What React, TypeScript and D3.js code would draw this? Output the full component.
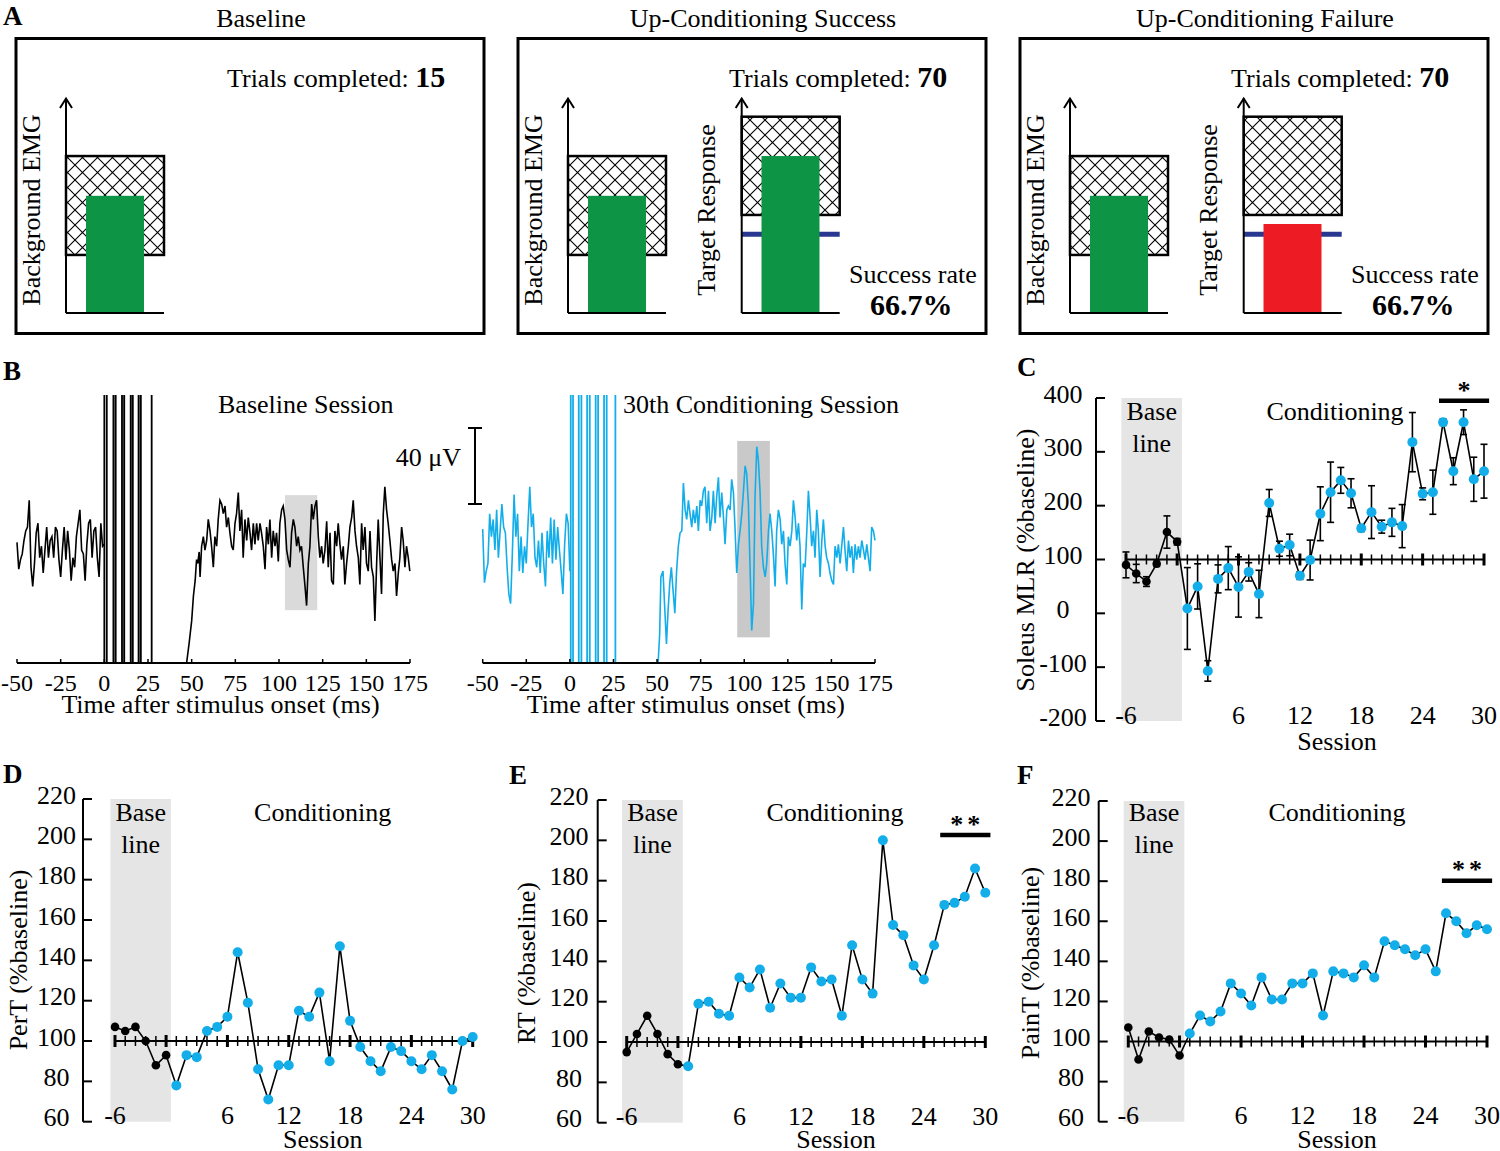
import React, { useEffect } from "react";
import * as d3 from "d3";

const FONT = "'Liberation Serif', 'Times New Roman', Times, serif";
const BLUE = "#13aee9";
const GREEN = "#0e9445";
const RED = "#ed1c24";
const NAVY = "#283891";

// ---------------- Panel A (schematic levels, 0..1 of the feedback axis) ----------------
const panelATitles = ["Baseline", "Up-Conditioning Success", "Up-Conditioning Failure"];
const panelATrials = [15, 70, 70];
const emgWindow = [0.27, 0.73];
const emgLevel = [0.545, 0.545, 0.545];
const targetWindow = [0.456, 0.913];
const targetLevel: (number | null)[] = [null, 0.73, 0.414];
const targetThreshold = 0.366;
const successRate: (string | null)[] = [null, "66.7%", "66.7%"];

// ---------------- Panel B (EMG traces, ms / µV) ----------------
const traceTicks = [-50, -25, 0, 25, 50, 75, 100, 125, 150, 175];
const preStart = -50;
const preStep = 1;
const baselinePre = [3, -11, -6, -3, 4, 9, 11, 25, -10, -20, -8, 8, 13, -5, 1, -13, -1, 11, -5, 4, 6, -5, 11, 9, -6, -15, -1, 11, -6, 9, -1, -17, -5, -10, 6, 13, 20, -1, -3, -17, 2, 13, 15, -5, 9, 11, -5, -15, 13, 1, 2];
const baselinePost: [number, number][] = [
  [47.1, -60], [48.5, -50], [50.0, -38], [51.0, -25], [52.0, -17], [52.8, -6], [53.5, -8], [54.3, -2],
  [54.8, -15], [55.7, 1], [56.7, 6], [57.6, -1], [58.6, 4], [59.5, 15], [60.5, 9], [61.4, 1], [62.4, -10], [63.3, 6], [64.3, 1], [65.2, 15], [66.2, 25], [67.2, 23], [68.1, 18], [69.1, 22], [70, 11], [71, 16], [71.9, 8], [72.9, 1], [73.8, -1], [74.8, 13], [75.7, 18], [76.7, 29], [77.6, 9], [78.6, 20], [79.5, -5], [80.5, 15], [81.5, 4], [82.4, 16], [83.4, 8], [84.3, -1], [85.3, 13], [86.2, 2], [87.2, 13], [88.1, 4], [89.1, 13], [90, 8], [91, 1], [92, -11], [92.9, 11], [93.9, 2], [94.8, 15], [95.8, -5], [96.7, 9], [97.7, 1], [98.6, 8], [99.6, -7], [100.5, 13], [101.5, 20], [102.4, 22], [103.4, 15], [104.4, -1], [105.3, -6], [106.3, -10], [107.2, 8], [108.2, 15], [109.1, 11], [110.1, 1], [111, 6], [112, -1], [112.9, 1], [113.9, -10], [114.9, -20], [115.8, -30], [116.8, -8], [117.7, 1], [118.7, 23], [119.6, 15], [120.6, 22], [121.5, 25], [122.5, 6], [123.4, -5], [124.4, 1], [125.3, -8], [126.3, -1], [127.3, 14], [128.2, -10], [129.2, 8], [130.1, -17], [131.1, -19], [132, 9], [133, 1], [133.9, 13], [134.9, 2], [135.8, -6], [136.8, 1], [137.7, -19], [138.7, -8], [139.7, 1], [140.6, 11], [141.6, 16], [142.5, 25], [143.5, 9], [144.4, 1], [145.4, -5], [146.3, -19], [147.3, 13], [148.2, -1], [149.2, 11], [150.1, -8], [151.1, -12], [152.1, 9], [153, -10], [154, -15], [154.9, -38], [155.9, -8], [156.8, 15], [157.8, -5], [158.7, -24], [159.7, 18], [160.6, 32], [161.6, 20], [162.5, 13], [163.5, 4], [164.5, -6], [165.4, -12], [166.4, -8], [167.3, -25], [168.3, -13], [169.2, -5], [170.2, 11], [171.1, 4], [172.1, -10], [173, 1], [174, -5], [174.9, -12],
];
const baselineStim = [0.0, 1.4, 5.2, 6.5, 10.1, 11.4, 15.1, 16.3, 19.6, 20.9, 27.1];
const baselineWindow = { t0: 103.4, t1: 121.9, v0: -32.4, v1: 27.7 };

const condPre = [10, -18, -12, -8, 18, 6, 15, -1, 20, -5, 9, 23, 11, 8, -10, -24, -29, -3, 28, 6, 18, -12, 6, -13, 1, -8, 13, 32, 11, 18, -5, -10, 4, -13, 8, -8, -20, 9, -5, 16, -8, 15, -6, 11, -1, -12, -24, 2, 18, 13, -12];
const condPost: [number, number][] = [
  [50.6, -60], [51.5, -45], [52.2, -15], [53.4, -12], [54.5, -33], [55.4, -50], [56.3, -33], [57.3, -18], [58.2, -10], [59, -20], [60.2, -34], [61.2, -12], [62.2, 1], [63.2, 8], [64.2, 9],
  [65.1, 34], [66.1, 20], [67, 15], [68, 25], [68.9, 18], [69.9, 11], [70.8, 20], [71.8, 13], [72.8, 22], [73.7, 9], [74.7, 25], [75.6, 22], [76.6, 30], [77.5, 32], [78.5, 13], [79.5, 30], [80.4, 9], [81.4, 16], [82.3, 30], [83.3, 13], [84.2, 27], [85.2, 37], [86.1, 16], [87.1, 29], [88.1, 16], [89, 2], [90, 20], [90.9, 22], [91.9, 20], [92.8, 36], [93.8, 29], [94.7, 11], [95.7, -13], [96.7, 2], [97.6, 9], [98.6, 18], [99.5, 29], [100.5, 43], [101.4, 39], [102.4, 23], [103.4, -12], [104.3, -43], [105.3, -29], [106.2, 27], [107.2, 53], [108.1, 46], [109.1, 29], [110, 1], [111, -10], [112, -15], [112.9, -8], [113.9, 9], [114.8, 18], [115.8, 9], [116.7, -3], [117.7, -20], [118.6, 9], [119.6, 20], [120.6, 15], [121.5, 2], [122.5, 9], [123.4, -8], [124.4, -19], [125.3, 6], [126.3, 1], [127.3, 9], [128.2, 25], [129.2, 16], [130.1, 4], [131.1, 13], [132, 1], [133, -32], [133.9, -8], [134.9, -10], [135.9, 9], [136.8, 30], [137.8, 16], [138.7, 1], [139.7, 9], [140.6, -5], [141.6, 20], [142.5, 9], [143.5, -15], [144.5, 4], [145.4, 15], [146.4, 1], [147.3, -5], [148.3, -8], [149.2, -13], [150.2, -17], [151.2, -19], [152.1, 1], [153.1, -5], [154, 2], [155, -8], [155.9, 1], [156.9, 11], [157.8, -1], [158.8, -12], [159.8, 4], [160.7, -5], [161.7, 1], [162.6, -13], [163.6, 2], [164.5, -6], [165.5, 1], [166.4, -5], [167.4, 4], [168.4, -1], [169.3, -6], [170.3, 2], [171.2, -5], [172.2, -12], [173.1, 11], [174.1, 9], [175, 4],
];
const condStim = [0.5, 1.8, 5.1, 6.6, 9.9, 11.4, 14.8, 16.2, 19.6, 21.1, 26.1];
const condWindow = { t0: 96, t1: 114.7, v0: -46.6, v1: 56 };

// ---------------- Panels C-F (sessions) ----------------
const sessions = [-6, -5, -4, -3, -2, -1, 1, 2, 3, 4, 5, 6, 7, 8, 9, 10, 11, 12, 13, 14, 15, 16, 17, 18, 19, 20, 21, 22, 23, 24, 25, 26, 27, 28, 29, 30];
const sessionTickLabels = [-6, 6, 12, 18, 24, 30];
const majorSessions = [-6, -1, 6, 12, 18, 24, 30];

const mlrBaseline = [90, 74, 59, 92, 151, 133];
const mlrBaselineErr = [24, 17, 9, 5, 30, 6];
const mlrCond = [9, 50, -107, 64, 84, 49, 77, 36, 205, 120, 127, 70, 99, 185, 225, 247, 223, 158, 188, 161, 169, 162, 318, 222, 225, 355, 264, 355, 249, 264];
const mlrCondErr = [76, 42, 19, 26, 40, 56, 17, 44, 25, 14, 20, 7, 37, 50, 56, 24, 27, 6, 49, 12, 26, 40, 55, 11, 41, 6, 25, 23, 41, 50];

const perTBaseline = [107, 105, 107, 100, 88, 93];
const perTCond = [78, 93, 92, 105, 107, 112, 144, 119, 86, 71, 88, 88, 115, 112, 124, 90, 147, 110, 97, 90, 85, 97, 95, 90, 86, 93, 85, 76, 100, 102];

const rtBaseline = [95, 104, 113, 104, 94, 89];
const rtCond = [88, 119, 120, 114, 113, 132, 127, 136, 117, 129, 122, 122, 137, 130, 131, 113, 148, 131, 124, 200, 158, 153, 138, 131, 148, 168, 169, 172, 186, 174];

const painTBaseline = [107, 91, 105, 102, 101, 93];
const painTCond = [104, 113, 110, 115, 129, 124, 118, 132, 121, 121, 129, 129, 134, 113, 135, 134, 132, 138, 132, 150, 148, 146, 143, 146, 135, 164, 160, 154, 158, 156];

const mlrTicks = [400, 300, 200, 100, 0, -100, -200];
const pctTicks = [220, 200, 180, 160, 140, 120, 100, 80, 60];

const T = { fontFamily: FONT, fontSize: 26, fill: "#000" } as const;

function ConditionBox({ i, L }: { i: number; L: number }) {
  const w = 468;
  const top = 38.5;
  const h = 295;
  const y = d3.scaleLinear().domain([0, 1]).range([313, 98]);
  const ax1 = L + 50;
  const ax2 = L + 223.7;
  const bw = 98;
  const arrow = (ax: number) => (
    <g stroke="#000" strokeWidth={2} fill="none">
      <line x1={ax} x2={ax} y1={y(0)} y2={y(1) + 0.5} />
      <polyline points={`${ax - 6},${y(1) + 10} ${ax},${y(1) + 0.5} ${ax + 6},${y(1) + 10}`} />
      <line x1={ax} x2={ax + bw} y1={y(0)} y2={y(0)} />
    </g>
  );
  const tl = targetLevel[i];
  return (
    <g>
      <rect x={L} y={top} width={w} height={h} fill="none" stroke="#000" strokeWidth={3} />
      <text {...T} x={L + w / 2 + 11} y={27} textAnchor="middle">{panelATitles[i]}</text>
      <text {...T} x={L + 211} y={87}>
        Trials completed: <tspan fontWeight="bold" fontSize={30}>{panelATrials[i]}</tspan>
      </text>
      <rect x={ax1} y={y(emgWindow[1])} width={bw} height={y(emgWindow[0]) - y(emgWindow[1])} fill="url(#xhatch)" stroke="#000" strokeWidth={2.5} />
      <rect x={L + 70} y={y(emgLevel[i])} width={58} height={y(0) - y(emgLevel[i])} fill={GREEN} />
      {arrow(ax1)}
      <text {...T} transform={`translate(${L + 23.5},210) rotate(-90)`} textAnchor="middle">Background EMG</text>
      {tl !== null && (
        <g>
          <rect x={ax2} y={y(targetWindow[1])} width={bw} height={y(targetWindow[0]) - y(targetWindow[1])} fill="url(#xhatch)" stroke="#000" strokeWidth={2.5} />
          <line x1={ax2} x2={ax2 + bw} y1={y(targetThreshold)} y2={y(targetThreshold)} stroke={NAVY} strokeWidth={5} />
          <rect x={L + 243.5} y={y(tl)} width={58} height={y(0) - y(tl)} fill={i === 1 ? GREEN : RED} />
          {arrow(ax2)}
          <text {...T} transform={`translate(${L + 197},210) rotate(-90)`} textAnchor="middle">Target Response</text>
          <text {...T} x={L + 331} y={283}>Success rate</text>
          <text {...T} x={L + 352} y={315} fontWeight="bold" fontSize={30}>{successRate[i]}</text>
        </g>
      )}
    </g>
  );
}

function TracePanel({ x0, x1, pre, post, stim, win, color, id }: any) {
  const x = d3.scaleLinear().domain([-50, 175]).range([x0, x1]);
  const y = d3.scaleLinear().domain([-60, 80]).range([663, 395]);
  const line = d3.line<[number, number]>().x((d) => x(d[0])).y((d) => y(d[1]));
  const preData: [number, number][] = pre.map((v: number, k: number) => [preStart + k * preStep, v]);
  const pairs: [number, number][] = [];
  for (let k = 0; k + 1 < stim.length; k += 2) pairs.push([stim[k], stim[k + 1]]);
  return (
    <g>
      <clipPath id={id}>
        <rect x={x0 - 2} y={395} width={x1 - x0 + 4} height={268} />
      </clipPath>
      <rect x={x(win.t0)} y={y(win.v1)} width={x(win.t1) - x(win.t0)} height={y(win.v0) - y(win.v1)} fill={color === "#000" ? "#dadada" : "#c9c9c9"} />
      {color === "#000" &&
        pairs.slice(1).map((p, k) => (
          <rect key={k} x={x(p[0])} y={y(80)} width={x(p[1]) - x(p[0])} height={y(-60) - y(80)} fill="#9a9a9a" />
        ))}
      <g clipPath={`url(#${id})`} fill="none" stroke={color} strokeWidth={1.6}>
        <path d={line(preData) || ""} />
        <path d={line(post) || ""} />
        {stim.map((t: number, k: number) => (
          <line key={k} x1={x(t)} x2={x(t)} y1={y(-60)} y2={y(80)} strokeWidth={1.8} />
        ))}
      </g>
      <line x1={x0} x2={x1} y1={663} y2={663} stroke="#000" strokeWidth={2} />
      {traceTicks.map((t) => (
        <g key={t}>
          <line x1={x(t)} x2={x(t)} y1={663} y2={659} stroke="#000" strokeWidth={1.5} />
          <text {...T} fontSize={24} x={x(t)} y={691} textAnchor="middle">{t}</text>
        </g>
      ))}
      <text {...T} x={(x0 + x1) / 2 + 7} y={713} textAnchor="middle">Time after stimulus onset (ms)</text>
    </g>
  );
}

function SessionPanel({ c }: { c: any }) {
  const x = d3.scalePoint<number>().domain(sessions).range([c.xLeft, c.xRight]);
  const step = x.step();
  const y = d3.scaleLinear().domain(c.yDomain).range([c.yBottom, c.yTop]);
  const data = sessions.map((s, i) => ({
    s,
    v: i < 6 ? c.base[i] : c.cond[i - 6],
    e: c.baseErr ? (i < 6 ? c.baseErr[i] : c.condErr[i - 6]) : 0,
    isBase: i < 6,
  }));
  const path = d3.line<any>().x((d) => x(d.s)!).y((d) => y(d.v))(data) || "";
  const y100 = y(100);
  const shadeL = x(-6)! - 0.45 * step;
  const shadeR = x(-1)! + 0.47 * step;
  return (
    <g>
      <rect x={shadeL} y={c.yTop} width={shadeR - shadeL} height={c.yBottom - c.yTop} fill="#e5e5e5" />
      <text {...T} x={(shadeL + shadeR) / 2} y={c.baseY} textAnchor="middle">Base</text>
      <text {...T} x={(shadeL + shadeR) / 2} y={c.baseY + 32} textAnchor="middle">line</text>
      <text {...T} x={c.condX} y={c.baseY} textAnchor="middle">Conditioning</text>
      <line x1={c.axisX} x2={c.axisX} y1={c.yTop} y2={c.yBottom} stroke="#000" strokeWidth={2} />
      {c.yTicks.map((t: number) => (
        <g key={t}>
          <line x1={c.axisX} x2={c.axisX + 9} y1={y(t)} y2={y(t)} stroke="#000" strokeWidth={2} />
          <text {...T} x={c.yLabelX} y={y(t) - 4} textAnchor="middle" dominantBaseline="central">{t}</text>
        </g>
      ))}
      <text {...T} transform={`translate(${c.titleX},${c.titleY}) rotate(-90)`} textAnchor="middle">{c.yTitle}</text>
      <line x1={x(-6)} x2={x(30)} y1={y100} y2={y100} stroke="#000" strokeWidth={2} />
      {sessions.map((s) => {
        const major = majorSessions.includes(s);
        return <line key={s} x1={x(s)} x2={x(s)} y1={y100 - (major ? 6 : 5)} y2={y100 + (major ? 6 : 5)} stroke="#000" strokeWidth={major ? 3 : 1.5} />;
      })}
      {sessionTickLabels.map((s) => (
        <text key={s} {...T} x={x(s)} y={c.yBottom - 6} textAnchor="middle" dominantBaseline="central">{s}</text>
      ))}
      <text {...T} x={c.sessionX} y={c.sessionY} textAnchor="middle">Session</text>
      {c.baseErr &&
        data.map((d) => (
          <g key={d.s} stroke="#000" strokeWidth={1.6}>
            <line x1={x(d.s)} x2={x(d.s)} y1={y(d.v - d.e)} y2={y(d.v + d.e)} />
            <line x1={x(d.s)! - 3.5} x2={x(d.s)! + 3.5} y1={y(d.v - d.e)} y2={y(d.v - d.e)} />
            <line x1={x(d.s)! - 3.5} x2={x(d.s)! + 3.5} y1={y(d.v + d.e)} y2={y(d.v + d.e)} />
          </g>
        ))}
      <path d={path} fill="none" stroke="#000" strokeWidth={1.6} />
      {data.map((d) => (
        <circle key={d.s} cx={x(d.s)} cy={y(d.v)} r={d.isBase ? 4.3 : 5} fill={d.isBase ? "#000" : BLUE} />
      ))}
      {c.sig && (
        <g>
          <line x1={x(c.sig.from)! + 0.6 * step} x2={x(c.sig.to)! + 0.5 * step} y1={c.sig.y} y2={c.sig.y} stroke="#000" strokeWidth={4.5} />
          <text {...T} fontWeight="bold" letterSpacing={c.sig.text.length > 1 ? 4 : 0} x={(x(c.sig.from)! + x(c.sig.to)! + 1.1 * step) / 2 + (c.sig.text.length > 1 ? 2 : 0)} y={c.sig.textY} textAnchor="middle">{c.sig.text}</text>
        </g>
      )}
      <text {...T} fontWeight="bold" fontSize={27} x={c.letterX} y={c.letterY}>{c.letter}</text>
    </g>
  );
}

const panelC = {
  xLeft: 1126, xRight: 1484, yTop: 398, yBottom: 721, yDomain: [-200, 400], axisX: 1096, yTicks: mlrTicks, yLabelX: 1063,
  yTitle: "Soleus MLR (%baseline)", titleX: 1034, titleY: 560, base: mlrBaseline, cond: mlrCond, baseErr: mlrBaselineErr, condErr: mlrCondErr,
  sig: { from: 25, to: 30, y: 400.7, text: "*", textY: 399 }, baseY: 420, condX: 1335, sessionX: 1337, sessionY: 750, letter: "C", letterX: 1017, letterY: 376,
};
const panelD = {
  xLeft: 115, xRight: 472.7, yTop: 799, yBottom: 1121.7, yDomain: [60, 220], axisX: 83, yTicks: pctTicks, yLabelX: 56.5,
  yTitle: "PerT (%baseline)", titleX: 27, titleY: 960, base: perTBaseline, cond: perTCond,
  baseY: 821, condX: 322.7, sessionX: 322.7, sessionY: 1147.5, letter: "D", letterX: 3, letterY: 783,
};
const panelE = {
  xLeft: 626.7, xRight: 985.3, yTop: 800, yBottom: 1122.7, yDomain: [60, 220], axisX: 597.7, yTicks: pctTicks, yLabelX: 569,
  yTitle: "RT (%baseline)", titleX: 535, titleY: 963, base: rtBaseline, cond: rtCond,
  sig: { from: 25, to: 30, y: 835, text: "**", textY: 833 }, baseY: 821, condX: 835, sessionX: 836, sessionY: 1147.5, letter: "E", letterX: 509, letterY: 784,
};
const panelF = {
  xLeft: 1128.3, xRight: 1487, yTop: 801, yBottom: 1121.7, yDomain: [60, 220], axisX: 1098.7, yTicks: pctTicks, yLabelX: 1071,
  yTitle: "PainT (%baseline)", titleX: 1039, titleY: 963, base: painTBaseline, cond: painTCond,
  sig: { from: 25, to: 30, y: 880.7, text: "**", textY: 878 }, baseY: 821, condX: 1337, sessionX: 1337, sessionY: 1147.5, letter: "F", letterX: 1017, letterY: 784,
};

export default function App() {
  useEffect(() => {
    document.body.style.margin = "0";
  }, []);
  const boxLefts = [16, 518, 1020];
  return (
    <svg width={1500} height={1151} viewBox="0 0 1500 1151" style={{ position: "absolute", left: 0, top: 0, display: "block", background: "#fff" }}>
      <defs>
        <pattern id="xhatch" patternUnits="userSpaceOnUse" width={15} height={15}>
          <rect width={15} height={15} fill="#fff" />
          <path d="M0,0 L15,15 M0,15 L15,0" stroke="#000" strokeWidth={1.1} />
        </pattern>
      </defs>
      <rect width={1500} height={1151} fill="#fff" />
      <text {...T} fontWeight="bold" fontSize={27} x={3} y={25}>A</text>
      {boxLefts.map((L, i) => (
        <ConditionBox key={i} i={i} L={L} />
      ))}
      <text {...T} fontWeight="bold" fontSize={27} x={3} y={380}>B</text>
      <text {...T} x={218} y={413}>Baseline Session</text>
      <text {...T} x={623} y={413}>30th Conditioning Session</text>
      <TracePanel id="clipL" x0={17} x1={410} pre={baselinePre} post={baselinePost} stim={baselineStim} win={baselineWindow} color="#000" />
      <TracePanel id="clipR" x0={482.7} x1={875} pre={condPre} post={condPost} stim={condStim} win={condWindow} color={BLUE} />
      <g stroke="#000" strokeWidth={2}>
        <line x1={475} x2={475} y1={428} y2={504} />
        <line x1={468} x2={482} y1={428} y2={428} />
        <line x1={468} x2={482} y1={504} y2={504} />
      </g>
      <text {...T} x={461} y={466} textAnchor="end">40 μV</text>
      <SessionPanel c={panelC} />
      <SessionPanel c={panelD} />
      <SessionPanel c={panelE} />
      <SessionPanel c={panelF} />
    </svg>
  );
}
